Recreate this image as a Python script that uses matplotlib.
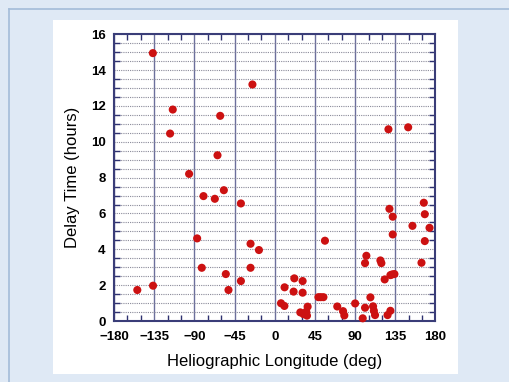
import numpy as np
import matplotlib
matplotlib.use("Agg")
import matplotlib.pyplot as plt
from matplotlib.patches import Rectangle
from matplotlib.lines import Line2D
from matplotlib.ticker import MultipleLocator

# Heliographic longitude (deg) and delay time (hours)
longitude = [
    -136.5, -25.0, -114.2, -61.1, -117.2, 127.3, 149.4, -64.1, -95.9, -79.8,
    -67.1, -57.0, -37.9, -86.9, -27.1, -17.7, -81.7, -27.1, -54.8, -37.9,
    -136.3, -153.9, -51.8, 7.0, 10.8, 11.0, 21.1, 21.9, 31.2, 31.2,
    28.6, 32.3, 35.3, 36.1, 36.8, 48.9, 51.5, 54.5, 56.2, 70.0,
    76.5, 77.9, 90.0, 98.5, 101.1, 101.1, 102.6, 107.1, 110.1, 111.0,
    112.3, 118.3, 119.4, 123.1, 126.3, 129.5, 129.5, 131.5, 134.0, 128.4,
    132.1, 132.1, 154.2, 164.3, 166.9, 168.0, 168.0, 173.3,
]
delay = [
    14.95, 13.2, 11.8, 11.45, 10.46, 10.7, 10.81, 9.25, 8.21, 6.97,
    6.82, 7.30, 6.56, 4.61, 4.31, 3.96, 2.97, 2.97, 2.62, 2.23,
    1.97, 1.73, 1.73, 0.99, 0.84, 1.88, 1.64, 2.38, 2.23, 1.58,
    0.48, 0.38, 0.52, 0.30, 0.80, 1.33, 1.33, 1.33, 4.48, 0.81,
    0.55, 0.31, 0.98, 0.15, 0.74, 3.23, 3.64, 1.32, 0.82, 0.57,
    0.33, 3.38, 3.23, 2.32, 0.33, 0.57, 2.56, 2.60, 2.62, 6.26,
    5.82, 4.83, 5.31, 3.25, 6.60, 5.96, 4.46, 5.20,
]
x_ticks = [-180, -135, -90, -45, 0, 45, 90, 135, 180]
y_ticks = [0, 2, 4, 6, 8, 10, 12, 14, 16]

W, H = 510, 382
fig = plt.figure(figsize=(W / 100, H / 100), dpi=100)
fig.patch.set_facecolor("#dfe9f5")

# screenshot frame: border line top/left and white panel
fig.add_artist(Line2D([9 / W, 9 / W], [0, 1 - 9 / H], color="#a3bcd9", lw=1.2))
fig.add_artist(Line2D([9 / W, 1], [1 - 9 / H, 1 - 9 / H], color="#a3bcd9", lw=1.2))
fig.add_artist(Rectangle((53 / W, 1 - 374 / H), 405 / W, 354 / H,
                         facecolor="white", edgecolor="none", zorder=0))

ax = fig.add_axes([114 / W, 1 - 321 / H, 321.5 / W, 286.7 / H])
ax.set_facecolor("white")

ax.set_xlim(-180, 180)
ax.set_ylim(0, 16)
ax.set_xticks(x_ticks)
ax.set_xticklabels([str(t).replace("-", "\u2212") for t in x_ticks])
ax.set_yticks(y_ticks)
ax.xaxis.set_minor_locator(MultipleLocator(15))
ax.yaxis.set_minor_locator(MultipleLocator(0.5))

# grid: solid verticals every 45 deg, dotted horizontals every 0.5 h
ax.grid(True, which="major", axis="x", color="#6b6f9c", lw=1.0, ls="-")
ax.grid(True, which="both", axis="y", color="#8a8a9a", lw=0.8, ls=(0, (1, 1)))
ax.set_axisbelow(True)

ax.tick_params(which="both", direction="in", top=True, right=True,
               color="#2e3170", labelsize=9.5)
ax.tick_params(axis="x", pad=7)
ax.tick_params(axis="y", pad=6)
ax.tick_params(which="major", length=0)
ax.tick_params(which="minor", length=4, width=1)
for lab in ax.get_xticklabels() + ax.get_yticklabels():
    lab.set_fontfamily("Liberation Sans")
    lab.set_fontweight("bold")
for s in ax.spines.values():
    s.set_color("#3a3d78")
    s.set_linewidth(1.5)

ax.scatter(longitude, delay, s=34, color="#cc1111", edgecolors="none",
           zorder=3, clip_on=False)

ax.set_xlabel("Heliographic Longitude (deg)", fontsize=12,
              family="Liberation Sans", labelpad=8)
ax.set_ylabel("Delay Time (hours)", fontsize=12,
              family="Liberation Sans", labelpad=7.5)

fig.savefig("out.png", dpi=100, facecolor=fig.get_facecolor())
